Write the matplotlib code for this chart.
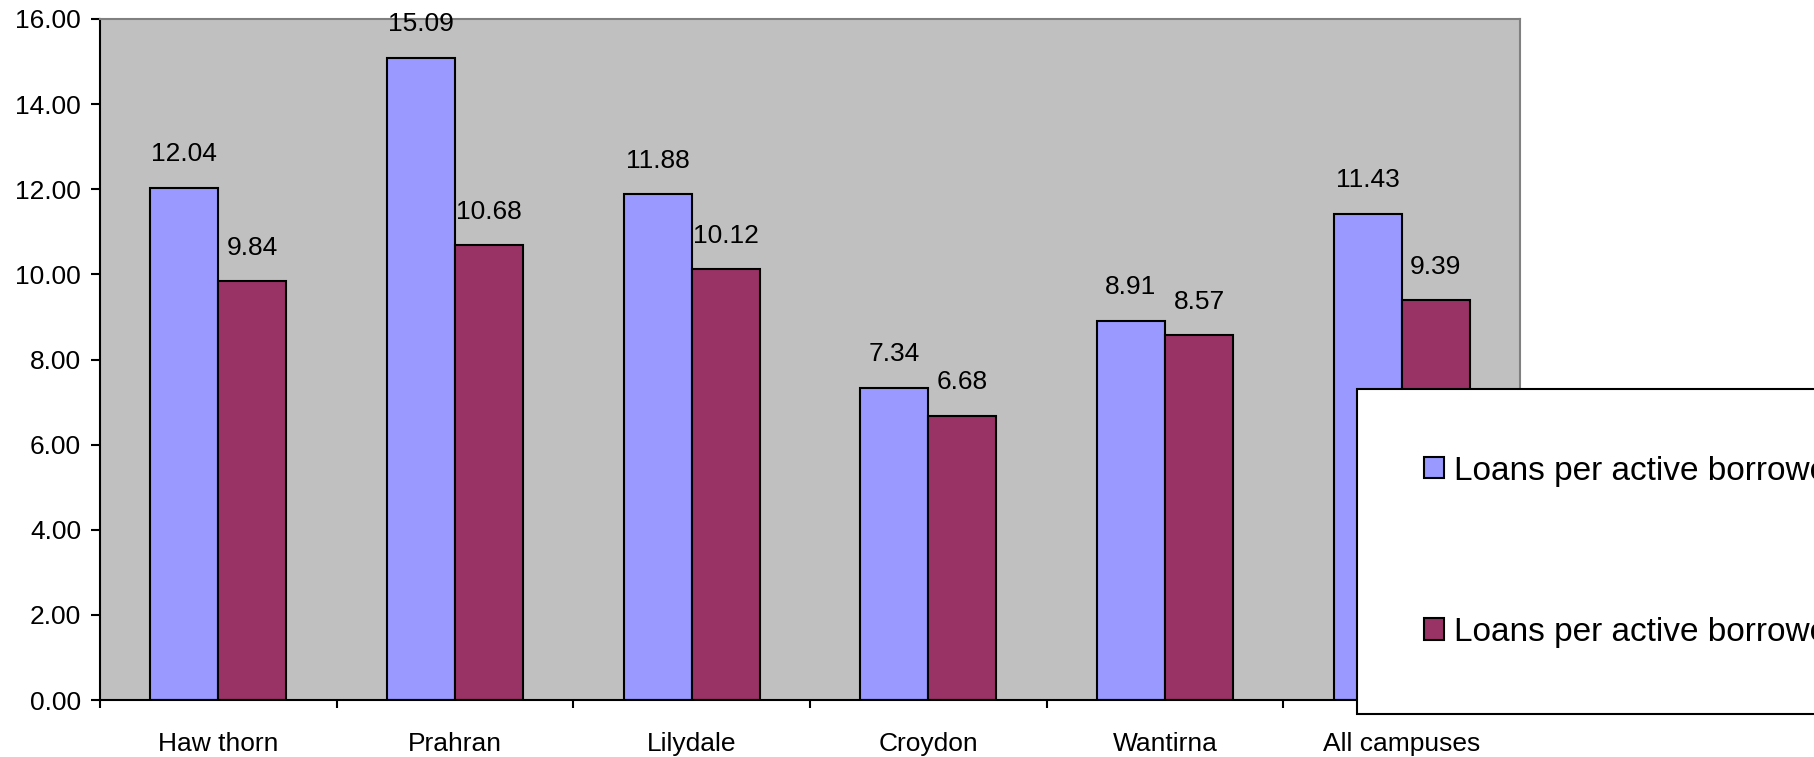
import numpy as np
import matplotlib
matplotlib.use('Agg')
import matplotlib.pyplot as plt

# loans per active borrower, by campus
campuses = ['Haw thorn', 'Prahran', 'Lilydale', 'Croydon', 'Wantirna', 'All campuses']
series_a = [12.04, 15.09, 11.88, 7.34, 8.91, 11.43]
series_b = [9.84, 10.68, 10.12, 6.68, 8.57, 9.39]
labels = ['Loans per active borrower', 'Loans per active borrower']
yticks = [0, 2, 4, 6, 8, 10, 12, 14, 16]

plt.rcParams['font.family'] = ['Liberation Sans', 'DejaVu Sans']

#==================================
def DrawFig():
  fig = plt.figure(figsize=(18.15, 7.57), dpi=100)
  ax = fig.add_axes([100/1815., 57/757., 1420/1815., 681/757.])
  ax.set_facecolor('#C0C0C0')

  x = np.arange(len(campuses))
  w = 0.288
  b1 = ax.bar(x - w/2, series_a, w, color='#9999FF', edgecolor='black', linewidth=1.5, label=labels[0])
  b2 = ax.bar(x + w/2, series_b, w, color='#993366', edgecolor='black', linewidth=1.5, label=labels[1])

  for bars, vals in ((b1, series_a), (b2, series_b)):
    for r, v in zip(bars, vals):
      ax.annotate('%.2f' % v, (r.get_x() + r.get_width()/2, v), xytext=(0, 24),
                  textcoords='offset points', ha='center', va='center', fontsize=19)

  ax.set_xlim(-0.5, len(campuses) - 0.5)
  ax.set_ylim(0, 16)
  ax.set_yticks(yticks)
  ax.set_yticklabels(['%.2f' % t for t in yticks], fontsize=19)
  ax.tick_params(axis='y', direction='out', length=6.5, width=1.5, pad=7)

  # labels at category centres, ticks on the category boundaries
  ax.set_xticks(x)
  ax.set_xticklabels(campuses, fontsize=19)
  ax.tick_params(axis='x', which='major', length=0, pad=23)
  ax.set_xticks(np.arange(len(campuses) + 1) - 0.5, minor=True)
  ax.tick_params(axis='x', which='minor', direction='out', length=6, width=1.5)

  ax.spines['left'].set_linewidth(1.5)
  ax.spines['bottom'].set_linewidth(1.5)
  ax.spines['top'].set_color('#808080')
  ax.spines['right'].set_color('#808080')
  ax.spines['top'].set_linewidth(1.5)
  ax.spines['right'].set_linewidth(1.5)

  leg = fig.legend(handles=[b1, b2], labels=labels, loc='upper left',
                   bbox_to_anchor=(1357/1815., 1 - 389/757.), borderaxespad=0.,
                   fontsize=24, fancybox=False, framealpha=1, edgecolor='black',
                   borderpad=2.0, labelspacing=3.9, handlelength=0.6,
                   handleheight=0.6, handletextpad=0.3)
  leg.get_frame().set_linewidth(1.5)

  plt.savefig('out.png', dpi=100)
  return

#==================================
def main():
  DrawFig()
  return

if __name__ == '__main__':
  main()
